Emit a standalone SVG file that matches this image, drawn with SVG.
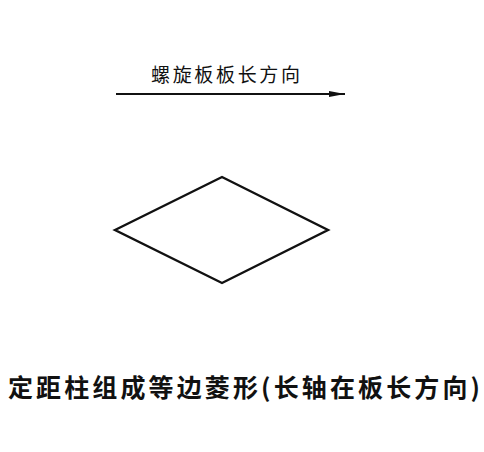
<svg xmlns="http://www.w3.org/2000/svg" width="484" height="452" viewBox="0 0 484 452">
<style>
.t{font-family:"Noto Sans CJK SC","Noto Sans",sans-serif;fill:#111}
.ln{stroke:#111;fill:none}
</style>
<defs>
<marker id="ah" viewBox="0 0 16 6" refX="16" refY="3" markerWidth="16" markerHeight="6" markerUnits="userSpaceOnUse" orient="auto">
<path d="M0,0 L16,3 L0,6 Z" fill="#111"/>
</marker>
</defs>
<rect width="484" height="452" fill="#fff"/>
<g id="connectors">
<line class="ln" x1="116" y1="94" x2="345" y2="94" stroke-width="1.8" marker-end="url(#ah)"/>
</g>
<g id="label-top">
<text class="t" x="151" y="82" font-size="19" textLength="149" lengthAdjust="spacing">螺旋板板长方向</text>
</g>
<g id="rhombus">
<polygon class="ln" points="115,230 222,177 328,230 222,283" stroke-width="2.4" stroke-linejoin="miter"/>
</g>
<g id="caption">
<text class="t" x="8" y="397" font-size="25" font-weight="bold" textLength="472" lengthAdjust="spacing">定距柱组成等边菱形(长轴在板长方向)</text>
</g>
</svg>
